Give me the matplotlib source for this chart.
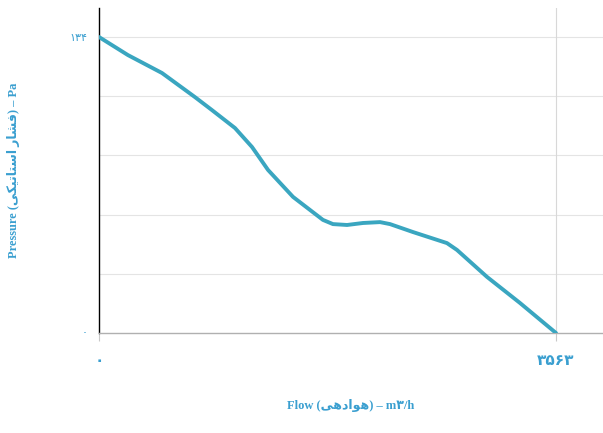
import matplotlib
matplotlib.use("Agg")
import matplotlib.pyplot as plt

# fan curve
flow = [0, 226, 491, 748, 881, 1060, 1193, 1318, 1513, 1746, 1824, 1934, 2058, 2191,
        2269, 2448, 2713, 2791, 3025, 3282, 3563]
pressure = [134, 125.8, 117.7, 106.8, 100.9, 92.8, 84.2, 73.8, 61.6, 51.2, 49.3, 48.9,
            49.8, 50.2, 49.3, 45.7, 40.7, 37.6, 25.4, 13.6, 0]

flow_max = 3563
pressure_max = 134
x_ticks = [0, flow_max]
x_labels = ["\u06f0", "\u06f3\u06f5\u06f6\u06f3"]
y_ticks = [0, pressure_max]
y_labels = ["\u06f0", "\u06f1\u06f3\u06f4"]

# Persian words pre-shaped (presentation forms, visual order)
havadehi = "\uFBFD\uFEEB\uFEA9\uFE8D\uFEEE\uFEEB"
feshar = "\uFBFD\uFB91\uFBFF\uFE97\uFE8E\uFE98\uFEB3\uFE8D \uFEAD\uFE8E\uFEB8\uFED3"

blue = "#3aa6c0"
txt = "#3a9fd0"
fonts = ["Liberation Serif", "DejaVu Sans"]

fig = plt.figure(figsize=(6.03, 4.33), dpi=100)
ax = fig.add_axes([99 / 603, 1 - 333 / 433, 1 - 99 / 603, (333 - 8) / 433])

ax.plot(flow, pressure, color=blue, lw=2.8, solid_capstyle="round",
        solid_joinstyle="round", zorder=3)

ax.set_xlim(0, flow_max * (603 - 99) / (556 - 99))
ax.set_ylim(0, pressure_max * (333 - 8) / (333 - 37))

for v in [pressure_max * i / 5 for i in range(1, 6)]:
    ax.axhline(v, color="#e4e4e4", lw=0.8, zorder=1)
ax.axvline(flow_max, color="#d8d8d8", lw=0.8, zorder=1)

for s in ["top", "right"]:
    ax.spines[s].set_visible(False)
ax.spines["left"].set_color("black")
ax.spines["left"].set_linewidth(1.0)
ax.spines["bottom"].set_color("#b0b0b0")
ax.spines["bottom"].set_linewidth(1.0)

ax.set_xticks(x_ticks)
ax.set_xticklabels(x_labels, family=fonts, fontsize=11, fontweight="bold", color=txt)
ax.set_yticks(y_ticks)
ax.set_yticklabels(y_labels, family=fonts, fontsize=8, color=txt)
ax.tick_params(axis="x", length=6, color="#c8c8c8", pad=10)
ax.tick_params(axis="y", length=0, pad=8)

ax.set_xlabel("Flow (" + havadehi + ") \u2013 m\u06f3/h", family=fonts, fontsize=9,
              fontweight="bold", color=txt, labelpad=22)
ax.set_ylabel("Pressure (" + feshar + ") \u2013 Pa", family=fonts, fontsize=9,
              fontweight="bold", color=txt, labelpad=36)

fig.savefig("out.png", dpi=100)
